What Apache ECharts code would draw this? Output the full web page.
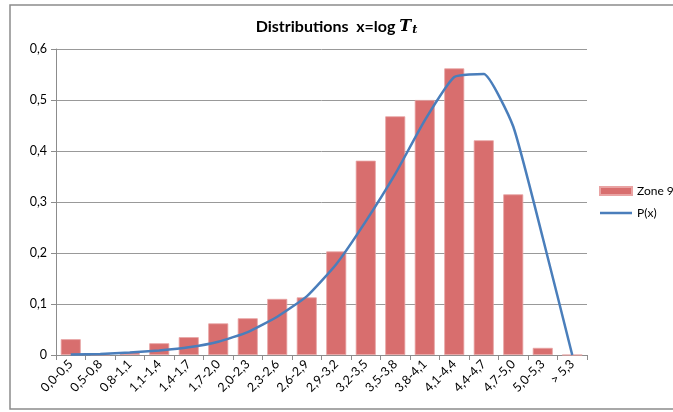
<!DOCTYPE html>
<html>
<head>
<meta charset="utf-8">
<script src="https://cdn.jsdelivr.net/npm/echarts@6/dist/echarts.min.js"></script>
<style>
  html, body { margin: 0; padding: 0; background: #fff; }
  #main { width: 673px; height: 412px; }
</style>
</head>
<body>
<div id="main"></div>
<script>
// 类别（区间）
var categories = ['0,0-0,5', '0,5-0,8', '0,8-1,1', '1,1-1,4', '1,4-1,7', '1,7-2,0', '2,0-2,3',
  '2,3-2,6', '2,6-2,9', '2,9-3,2', '3,2-3,5', '3,5-3,8', '3,8-4,1', '4,1-4,4', '4,4-4,7',
  '4,7-5,0', '5,0-5,3', '> 5,3'];

// Zone 9 柱状数据
var zone9 = [0.031, 0.001, 0.005, 0.023, 0.035, 0.062, 0.072, 0.110, 0.113, 0.203,
  0.381, 0.468, 0.500, 0.562, 0.421, 0.315, 0.014, 0];

// P(x) 折线数据
var px = [0.001, 0.002, 0.005, 0.009, 0.015, 0.026, 0.045, 0.075, 0.115, 0.178,
  0.262, 0.355, 0.460, 0.545, 0.551, 0.448, 0.230, 0];

var yTicks = [0, 0.1, 0.2, 0.3, 0.4, 0.5, 0.6];

var chartDom = document.getElementById('main');
var myChart = echarts.init(chartDom);

var font = 'Lato, "Open Sans", sans-serif';

var option = {
  animation: false,
  textStyle: { fontFamily: font },
  graphic: [{
    type: 'rect',
    shape: { x: 10, y: 5, width: 680, height: 404 },
    style: { fill: 'none', stroke: '#8c8c8c', lineWidth: 1.5 },
    silent: true
  }],
  title: {
    left: 'center',
    top: 12,
    text: '{a|Distributions  x=log }{t|T}{s|t}',
    textStyle: {
      rich: {
        a: { fontFamily: font, fontWeight: 'bold', fontSize: 16, color: '#000' },
        t: { fontFamily: 'DejaVu Serif, serif', fontStyle: 'italic', fontWeight: 'bold', fontSize: 16, color: '#000' },
        s: { fontFamily: 'DejaVu Serif, serif', fontStyle: 'italic', fontWeight: 'bold', fontSize: 11, color: '#000', padding: [8, 0, 0, 1] }
      }
    }
  },
  legend: {
    orient: 'vertical',
    left: 594,
    top: 180,
    itemGap: 10,
    itemWidth: 32,
    itemHeight: 8,
    textStyle: { fontFamily: font, fontSize: 12, color: '#000' },
    data: [
      { name: 'Zone 9', icon: 'rect' },
      { name: 'P(x)', icon: 'path://M0,0L32,0L32,2.5L0,2.5Z' }
    ]
  },
  grid: { left: 56, right: 86, top: 49, bottom: 57 },
  xAxis: {
    type: 'category',
    data: categories,
    axisLine: { lineStyle: { color: '#8c8c8c', width: 1 } },
    axisTick: { show: true, length: 5, lineStyle: { color: '#8c8c8c' } },
    axisLabel: { rotate: 45, fontSize: 12.5, color: '#000', margin: 7, interval: 0 }
  },
  yAxis: {
    type: 'value',
    min: 0,
    max: 0.6,
    interval: 0.1,
    axisLine: { show: true, lineStyle: { color: '#8c8c8c', width: 1 } },
    axisTick: { show: true, length: 5, lineStyle: { color: '#8c8c8c' } },
    splitLine: { lineStyle: { color: '#999', width: 1 } },
    axisLabel: {
      fontSize: 12.5, color: '#000', margin: 9,
      formatter: function(v) {
        var s = yTicks.indexOf(Math.round(v * 10) / 10) >= 0 ? (Math.round(v * 10) / 10) + '' : v + '';
        return s.replace('.', ',');
      }
    }
  },
  series: [
    {
      name: 'Zone 9',
      type: 'bar',
      data: zone9,
      barWidth: 20,
      itemStyle: { color: '#D86E6E', borderColor: '#E9A3A3', borderWidth: 0.8 }
    },
    {
      name: 'P(x)',
      type: 'line',
      data: px,
      symbol: 'none',
      smooth: 0.15,
      lineStyle: { color: '#4A7EBB', width: 2.5 },
      itemStyle: { color: '#4A7EBB' }
    }
  ]
};

option && myChart.setOption(option);
</script>
</body>
</html>
